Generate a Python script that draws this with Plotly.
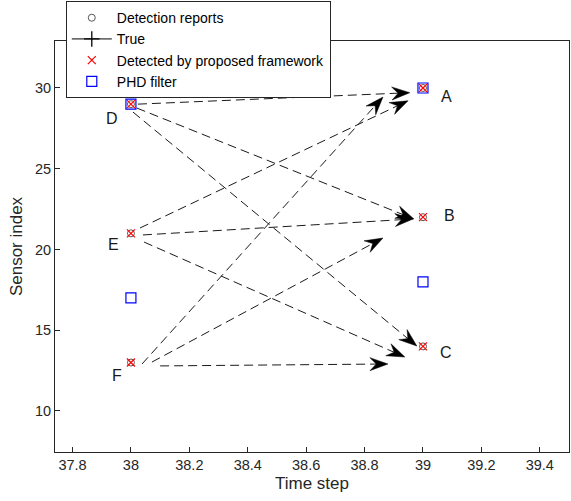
import numpy as np
import plotly.graph_objects as go

# ---- data ----
det_x = [38, 38, 38, 39, 39, 39]
det_y = [29, 21, 13, 30, 22, 14]
prop_x = [38, 38, 38, 39, 39, 39]
prop_y = [29, 21, 13, 30, 22, 14]
phd_x = [38, 38, 39, 39]
phd_y = [29, 17, 30, 18]

label_text = ["A", "B", "C", "D", "E", "F"]
label_x = [39.08, 39.09, 39.08, 37.935, 37.94, 37.952]
label_y = [29.45, 22.1, 13.6, 28.1, 20.3, 12.2]

# arrows (start -> tip), order D->A, D->B, D->C, E->A, E->B, E->C, F->A, F->B, F->C
arr_x0 = [38.024, 38.020, 38.007, 38.031, 38.041, 38.045, 38.038, 38.072, 38.100]
arr_y0 = [29.00, 28.76, 28.51, 21.33, 20.90, 20.46, 12.91, 13.03, 12.79]
arr_x1 = [38.955, 38.969, 38.979, 38.949, 38.966, 38.938, 38.863, 38.863, 38.880]
arr_y1 = [29.71, 21.89, 14.02, 29.21, 21.89, 13.34, 29.44, 20.71, 12.91]

x_ticks = [37.8, 38, 38.2, 38.4, 38.6, 38.8, 39, 39.2, 39.4]
x_tick_text = ["37.8", "38", "38.2", "38.4", "38.6", "38.8", "39", "39.2", "39.4"]
y_ticks = [10, 15, 20, 25, 30]

XR = [37.74, 39.5]
YR = [7.46, 32.91]

W, H = 571, 501
ML, MR, MT, MB = 55, 2, 41, 49
pw = W - ML - MR
ph = H - MT - MB
sx = pw / (XR[1] - XR[0])
sy = ph / (YR[1] - YR[0])

FONT = "Liberation Sans, Arial, sans-serif"

fig = go.Figure()

# dashed shafts and arrowheads
head_L, head_W, notch = 18.0, 13.0, 0.65
hx, hy = [], []
for x0, y0, x1, y1 in zip(arr_x0, arr_y0, arr_x1, arr_y1):
    dxp = (x1 - x0) * sx
    dyp = (y1 - y0) * sy
    n = np.hypot(dxp, dyp)
    ux, uy = dxp / n, dyp / n
    px, py = -uy, ux

    def to_data(a, b):
        return x1 + a / sx, y1 + b / sy

    pts = [(0, 0),
           (-head_L * ux + head_W / 2 * px, -head_L * uy + head_W / 2 * py),
           (-notch * head_L * ux, -notch * head_L * uy),
           (-head_L * ux - head_W / 2 * px, -head_L * uy - head_W / 2 * py),
           (0, 0)]
    for a, b in pts:
        xx, yy = to_data(a, b)
        hx.append(xx)
        hy.append(yy)
    hx.append(None)
    hy.append(None)
    ex, ey = to_data(-notch * head_L * ux, -notch * head_L * uy)
    fig.add_trace(go.Scatter(x=[x0, ex], y=[y0, ey], mode="lines",
                             line=dict(color="#1a1a1a", width=1, dash="9px,5px"),
                             showlegend=False, hoverinfo="skip"))

fig.add_trace(go.Scatter(x=hx, y=hy, mode="lines", fill="toself",
                         fillcolor="black", line=dict(color="black", width=0.5),
                         showlegend=False, hoverinfo="skip"))

# legend-visible traces
fig.add_trace(go.Scatter(x=det_x, y=det_y, mode="markers", name="Detection reports",
                         marker=dict(symbol="circle-open", size=7,
                                     color="#555555", line=dict(width=1))))
fig.add_trace(go.Scatter(x=[None], y=[None], mode="lines+markers", name="True",
                         line=dict(color="black", width=1),
                         marker=dict(symbol="cross-thin-open", size=11,
                                     color="black", line=dict(width=1.3))))
fig.add_trace(go.Scatter(x=prop_x, y=prop_y, mode="markers",
                         name="Detected by proposed framework",
                         marker=dict(symbol="x-thin-open", size=8,
                                     color="red", line=dict(width=1.2))))
fig.add_trace(go.Scatter(x=phd_x, y=phd_y, mode="markers", name="PHD filter",
                         marker=dict(symbol="square-open", size=10,
                                     color="blue", line=dict(width=1.2))))

for t, x, y in zip(label_text, label_x, label_y):
    fig.add_annotation(x=x, y=y, text=t, showarrow=False,
                       font=dict(size=16, color="#1a1a1a", family=FONT))

axis_common = dict(showline=True, linecolor="#262626", linewidth=1, mirror=True,
                   ticks="inside", ticklen=5, tickcolor="#262626",
                   showgrid=False, zeroline=False,
                   tickfont=dict(size=14.5, color="#262626"))

fig.update_layout(
    width=W, height=H,
    margin=dict(l=ML, r=MR, t=MT, b=MB, autoexpand=False),
    paper_bgcolor="white", plot_bgcolor="white",
    font=dict(family=FONT, color="#262626"),
    xaxis=dict(range=XR, tickvals=x_ticks, ticktext=x_tick_text,
               title=dict(text="Time step", font=dict(size=17), standoff=4),
               **axis_common),
    yaxis=dict(range=YR, tickvals=y_ticks,
               title=dict(text="Sensor index", font=dict(size=17), standoff=8),
               **axis_common),
    legend=dict(x=0.021, y=1.097, xanchor="left", yanchor="top",
                bgcolor="white", bordercolor="#262626", borderwidth=1,
                font=dict(size=14, color="black"),
                tracegroupgap=0, itemwidth=40),
    showlegend=True,
)

fig.write_html("out.html", config={"displayModeBar": False},
               post_script="document.body.style.margin='0';document.body.style.padding='0';")
